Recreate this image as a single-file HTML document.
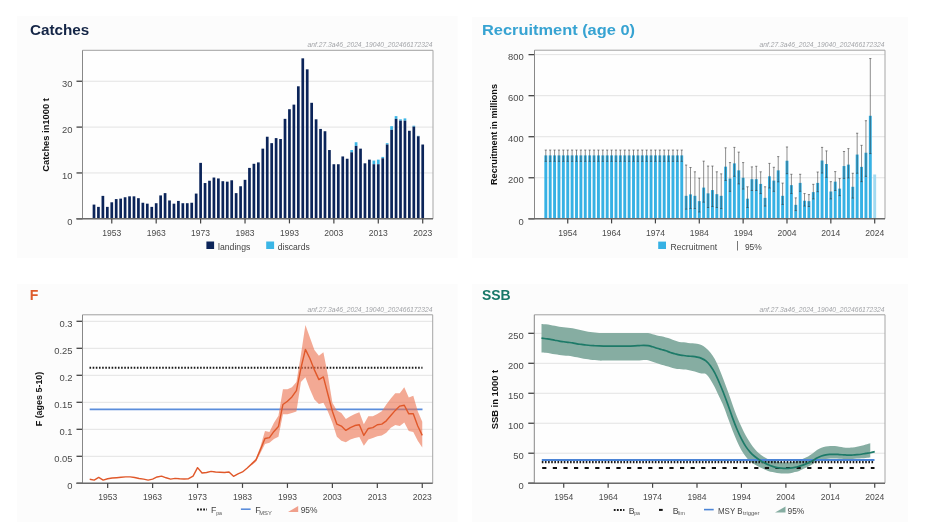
<!DOCTYPE html><html><head><meta charset="utf-8"><style>html,body{margin:0;padding:0;background:#fff;width:941px;height:524px;overflow:hidden}svg{display:block;filter:blur(0.4px)}</style></head><body>
<svg width="941" height="524" viewBox="0 0 941 524" font-family='"Liberation Sans", sans-serif'>
<rect x="0" y="0" width="941" height="524" fill="#ffffff"/>
<rect x="17" y="16" width="440.5" height="242" fill="#fcfcfc"/>
<rect x="472" y="17" width="436" height="241" fill="#fcfcfc"/>
<rect x="17" y="284" width="440.5" height="238" fill="#fcfcfc"/>
<rect x="472" y="284" width="436" height="238" fill="#fcfcfc"/>
<text x="30" y="34.8" font-size="14.6" fill="#142546" text-anchor="start" font-weight="bold" textLength="59.3" lengthAdjust="spacingAndGlyphs">Catches</text>
<text x="432.5" y="47" font-size="7.2" fill="#a2a4a8" text-anchor="end" font-style="italic" textLength="125" lengthAdjust="spacingAndGlyphs">anf.27.3a46_2024_19040_202466172324</text>
<rect x="82.5" y="50.3" width="350.5" height="168.5" fill="#fefefe"/>
<line x1="82.5" y1="218.8" x2="433" y2="218.8" stroke="#e3e3e3" stroke-width="1"/>
<line x1="76.5" y1="218.8" x2="82.5" y2="218.8" stroke="#444" stroke-width="1.3"/>
<text x="72.5" y="224.5" font-size="9.9" fill="#4a4a4a" text-anchor="end" textLength="5.23" lengthAdjust="spacingAndGlyphs">0</text>
<line x1="82.5" y1="172.95" x2="433" y2="172.95" stroke="#e3e3e3" stroke-width="1"/>
<line x1="76.5" y1="172.95" x2="82.5" y2="172.95" stroke="#444" stroke-width="1.3"/>
<text x="72.5" y="178.65" font-size="9.9" fill="#4a4a4a" text-anchor="end" textLength="10.46" lengthAdjust="spacingAndGlyphs">10</text>
<line x1="82.5" y1="127.1" x2="433" y2="127.1" stroke="#e3e3e3" stroke-width="1"/>
<line x1="76.5" y1="127.1" x2="82.5" y2="127.1" stroke="#444" stroke-width="1.3"/>
<text x="72.5" y="132.8" font-size="9.9" fill="#4a4a4a" text-anchor="end" textLength="10.46" lengthAdjust="spacingAndGlyphs">20</text>
<line x1="82.5" y1="81.25" x2="433" y2="81.25" stroke="#e3e3e3" stroke-width="1"/>
<line x1="76.5" y1="81.25" x2="82.5" y2="81.25" stroke="#444" stroke-width="1.3"/>
<text x="72.5" y="86.95" font-size="9.9" fill="#4a4a4a" text-anchor="end" textLength="10.46" lengthAdjust="spacingAndGlyphs">30</text>
<line x1="82.5" y1="50.3" x2="433" y2="50.3" stroke="#a0a0a0" stroke-width="1"/>
<line x1="433" y1="50.3" x2="433" y2="218.8" stroke="#a6a6a6" stroke-width="1"/>
<line x1="82.5" y1="50.3" x2="82.5" y2="218.8" stroke="#888" stroke-width="1"/>
<rect x="92.65" y="204.59" width="2.7" height="14.21" fill="#0b2459"/>
<rect x="97.09" y="206.88" width="2.7" height="11.92" fill="#0b2459"/>
<rect x="101.53" y="195.88" width="2.7" height="22.93" fill="#0b2459"/>
<rect x="105.98" y="206.88" width="2.7" height="11.92" fill="#0b2459"/>
<rect x="110.42" y="202.29" width="2.7" height="16.51" fill="#0b2459"/>
<rect x="114.86" y="199.08" width="2.7" height="19.72" fill="#0b2459"/>
<rect x="119.3" y="198.63" width="2.7" height="20.17" fill="#0b2459"/>
<rect x="123.74" y="197.25" width="2.7" height="21.55" fill="#0b2459"/>
<rect x="128.19" y="196.33" width="2.7" height="22.47" fill="#0b2459"/>
<rect x="132.63" y="196.33" width="2.7" height="22.47" fill="#0b2459"/>
<rect x="137.07" y="198.17" width="2.7" height="20.63" fill="#0b2459"/>
<rect x="141.51" y="202.75" width="2.7" height="16.05" fill="#0b2459"/>
<rect x="145.95" y="203.67" width="2.7" height="15.13" fill="#0b2459"/>
<rect x="150.4" y="206.88" width="2.7" height="11.92" fill="#0b2459"/>
<rect x="154.84" y="203.21" width="2.7" height="15.59" fill="#0b2459"/>
<rect x="159.28" y="195.42" width="2.7" height="23.38" fill="#0b2459"/>
<rect x="163.72" y="193.12" width="2.7" height="25.68" fill="#0b2459"/>
<rect x="168.16" y="200.46" width="2.7" height="18.34" fill="#0b2459"/>
<rect x="172.61" y="203.67" width="2.7" height="15.13" fill="#0b2459"/>
<rect x="177.05" y="200.92" width="2.7" height="17.88" fill="#0b2459"/>
<rect x="181.49" y="203.21" width="2.7" height="15.59" fill="#0b2459"/>
<rect x="185.93" y="203.21" width="2.7" height="15.59" fill="#0b2459"/>
<rect x="190.37" y="202.75" width="2.7" height="16.05" fill="#0b2459"/>
<rect x="194.82" y="193.58" width="2.7" height="25.22" fill="#0b2459"/>
<rect x="199.26" y="162.86" width="2.7" height="55.94" fill="#0b2459"/>
<rect x="203.7" y="183.04" width="2.7" height="35.76" fill="#0b2459"/>
<rect x="208.14" y="180.74" width="2.7" height="38.06" fill="#0b2459"/>
<rect x="212.58" y="177.54" width="2.7" height="41.26" fill="#0b2459"/>
<rect x="217.03" y="178.45" width="2.7" height="40.35" fill="#0b2459"/>
<rect x="221.47" y="181.2" width="2.7" height="37.6" fill="#0b2459"/>
<rect x="225.91" y="181.66" width="2.7" height="37.14" fill="#0b2459"/>
<rect x="230.35" y="180.29" width="2.7" height="38.51" fill="#0b2459"/>
<rect x="234.79" y="193.12" width="2.7" height="25.68" fill="#0b2459"/>
<rect x="239.24" y="186.25" width="2.7" height="32.55" fill="#0b2459"/>
<rect x="243.68" y="179.83" width="2.7" height="38.97" fill="#0b2459"/>
<rect x="248.12" y="167.91" width="2.7" height="50.89" fill="#0b2459"/>
<rect x="252.56" y="163.78" width="2.7" height="55.02" fill="#0b2459"/>
<rect x="257" y="162.4" width="2.7" height="56.4" fill="#0b2459"/>
<rect x="261.45" y="148.65" width="2.7" height="70.15" fill="#0b2459"/>
<rect x="265.89" y="136.73" width="2.7" height="82.07" fill="#0b2459"/>
<rect x="270.33" y="143.15" width="2.7" height="75.65" fill="#0b2459"/>
<rect x="274.77" y="138.1" width="2.7" height="80.7" fill="#0b2459"/>
<rect x="279.21" y="139.02" width="2.7" height="79.78" fill="#0b2459"/>
<rect x="283.66" y="118.85" width="2.7" height="99.95" fill="#0b2459"/>
<rect x="288.1" y="109.22" width="2.7" height="109.58" fill="#0b2459"/>
<rect x="292.54" y="104.63" width="2.7" height="114.17" fill="#0b2459"/>
<rect x="296.98" y="86.29" width="2.7" height="132.51" fill="#0b2459"/>
<rect x="301.42" y="58.33" width="2.7" height="160.47" fill="#0b2459"/>
<rect x="305.87" y="69.33" width="2.7" height="149.47" fill="#0b2459"/>
<rect x="310.31" y="102.8" width="2.7" height="116" fill="#0b2459"/>
<rect x="314.75" y="119.31" width="2.7" height="99.49" fill="#0b2459"/>
<rect x="319.19" y="128.93" width="2.7" height="89.87" fill="#0b2459"/>
<rect x="323.63" y="131.23" width="2.7" height="87.57" fill="#0b2459"/>
<rect x="328.08" y="150.03" width="2.7" height="68.78" fill="#0b2459"/>
<rect x="332.52" y="164.24" width="2.7" height="54.56" fill="#0b2459"/>
<rect x="336.96" y="164.24" width="2.7" height="54.56" fill="#0b2459"/>
<rect x="341.4" y="156.44" width="2.7" height="62.36" fill="#0b2459"/>
<rect x="345.84" y="158.74" width="2.7" height="60.06" fill="#0b2459"/>
<rect x="350.29" y="150.03" width="2.7" height="2.29" fill="#3bb6e6"/>
<rect x="350.29" y="152.32" width="2.7" height="66.48" fill="#0b2459"/>
<rect x="354.73" y="142.23" width="2.7" height="3.67" fill="#3bb6e6"/>
<rect x="354.73" y="145.9" width="2.7" height="72.9" fill="#0b2459"/>
<rect x="359.17" y="148.65" width="2.7" height="70.15" fill="#0b2459"/>
<rect x="363.61" y="163.32" width="2.7" height="55.48" fill="#0b2459"/>
<rect x="368.05" y="159.65" width="2.7" height="59.15" fill="#0b2459"/>
<rect x="372.5" y="160.57" width="2.7" height="3.67" fill="#3bb6e6"/>
<rect x="372.5" y="164.24" width="2.7" height="54.56" fill="#0b2459"/>
<rect x="376.94" y="159.65" width="2.7" height="4.59" fill="#3bb6e6"/>
<rect x="376.94" y="164.24" width="2.7" height="54.56" fill="#0b2459"/>
<rect x="381.38" y="156.9" width="2.7" height="1.38" fill="#3bb6e6"/>
<rect x="381.38" y="158.28" width="2.7" height="60.52" fill="#0b2459"/>
<rect x="385.82" y="143.15" width="2.7" height="1.38" fill="#3bb6e6"/>
<rect x="385.82" y="144.52" width="2.7" height="74.28" fill="#0b2459"/>
<rect x="390.26" y="126.18" width="2.7" height="3.67" fill="#3bb6e6"/>
<rect x="390.26" y="129.85" width="2.7" height="88.95" fill="#0b2459"/>
<rect x="394.71" y="116.1" width="2.7" height="2.75" fill="#3bb6e6"/>
<rect x="394.71" y="118.85" width="2.7" height="99.95" fill="#0b2459"/>
<rect x="399.15" y="119.31" width="2.7" height="1.38" fill="#3bb6e6"/>
<rect x="399.15" y="120.68" width="2.7" height="98.12" fill="#0b2459"/>
<rect x="403.59" y="118.39" width="2.7" height="2.29" fill="#3bb6e6"/>
<rect x="403.59" y="120.68" width="2.7" height="98.12" fill="#0b2459"/>
<rect x="408.03" y="130.77" width="2.7" height="88.03" fill="#0b2459"/>
<rect x="412.47" y="125.72" width="2.7" height="0.92" fill="#3bb6e6"/>
<rect x="412.47" y="126.64" width="2.7" height="92.16" fill="#0b2459"/>
<rect x="416.92" y="135.81" width="2.7" height="0.46" fill="#3bb6e6"/>
<rect x="416.92" y="136.27" width="2.7" height="82.53" fill="#0b2459"/>
<rect x="421.36" y="144.52" width="2.7" height="74.28" fill="#0b2459"/>
<line x1="76.5" y1="218.8" x2="433" y2="218.8" stroke="#6a6a6a" stroke-width="1.4"/>
<line x1="111.77" y1="218.8" x2="111.77" y2="223.4" stroke="#444" stroke-width="1.2"/>
<text x="111.77" y="236.3" font-size="9.2" fill="#4a4a4a" text-anchor="middle" textLength="19.03" lengthAdjust="spacingAndGlyphs">1953</text>
<line x1="156.19" y1="218.8" x2="156.19" y2="223.4" stroke="#444" stroke-width="1.2"/>
<text x="156.19" y="236.3" font-size="9.2" fill="#4a4a4a" text-anchor="middle" textLength="19.03" lengthAdjust="spacingAndGlyphs">1963</text>
<line x1="200.61" y1="218.8" x2="200.61" y2="223.4" stroke="#444" stroke-width="1.2"/>
<text x="200.61" y="236.3" font-size="9.2" fill="#4a4a4a" text-anchor="middle" textLength="19.03" lengthAdjust="spacingAndGlyphs">1973</text>
<line x1="245.03" y1="218.8" x2="245.03" y2="223.4" stroke="#444" stroke-width="1.2"/>
<text x="245.03" y="236.3" font-size="9.2" fill="#4a4a4a" text-anchor="middle" textLength="19.03" lengthAdjust="spacingAndGlyphs">1983</text>
<line x1="289.45" y1="218.8" x2="289.45" y2="223.4" stroke="#444" stroke-width="1.2"/>
<text x="289.45" y="236.3" font-size="9.2" fill="#4a4a4a" text-anchor="middle" textLength="19.03" lengthAdjust="spacingAndGlyphs">1993</text>
<line x1="333.87" y1="218.8" x2="333.87" y2="223.4" stroke="#444" stroke-width="1.2"/>
<text x="333.87" y="236.3" font-size="9.2" fill="#4a4a4a" text-anchor="middle" textLength="19.03" lengthAdjust="spacingAndGlyphs">2003</text>
<line x1="378.29" y1="218.8" x2="378.29" y2="223.4" stroke="#444" stroke-width="1.2"/>
<text x="378.29" y="236.3" font-size="9.2" fill="#4a4a4a" text-anchor="middle" textLength="19.03" lengthAdjust="spacingAndGlyphs">2013</text>
<line x1="422.71" y1="218.8" x2="422.71" y2="223.4" stroke="#444" stroke-width="1.2"/>
<text x="422.71" y="236.3" font-size="9.2" fill="#4a4a4a" text-anchor="middle" textLength="19.03" lengthAdjust="spacingAndGlyphs">2023</text>
<text x="0" y="0" font-size="9.2" fill="#111" font-weight="bold" text-anchor="middle" transform="translate(49.4,135) rotate(-90)" textLength="73.5" lengthAdjust="spacingAndGlyphs">Catches in1000 t</text>
<rect x="206.4" y="241.5" width="7.7" height="7.5" fill="#0b2459"/>
<text x="218" y="250.2" font-size="8.8" fill="#444" text-anchor="start" textLength="32.3" lengthAdjust="spacingAndGlyphs">landings</text>
<rect x="266.2" y="241.5" width="7.9" height="7.5" fill="#3bb6e6"/>
<text x="277.8" y="250.2" font-size="8.8" fill="#444" text-anchor="start" textLength="32" lengthAdjust="spacingAndGlyphs">discards</text>
<text x="482" y="34.8" font-size="14.6" fill="#37a3d2" text-anchor="start" font-weight="bold" textLength="153" lengthAdjust="spacingAndGlyphs">Recruitment (age 0)</text>
<text x="884.5" y="47" font-size="7.2" fill="#a2a4a8" text-anchor="end" font-style="italic" textLength="125" lengthAdjust="spacingAndGlyphs">anf.27.3a46_2024_19040_202466172324</text>
<rect x="534.5" y="50.2" width="350.5" height="168.6" fill="#fefefe"/>
<line x1="534.5" y1="218.8" x2="885" y2="218.8" stroke="#e3e3e3" stroke-width="1"/>
<line x1="528.5" y1="218.8" x2="534.5" y2="218.8" stroke="#444" stroke-width="1.3"/>
<text x="523.8" y="224.5" font-size="9.9" fill="#4a4a4a" text-anchor="end" textLength="5.23" lengthAdjust="spacingAndGlyphs">0</text>
<line x1="534.5" y1="177.76" x2="885" y2="177.76" stroke="#e3e3e3" stroke-width="1"/>
<line x1="528.5" y1="177.76" x2="534.5" y2="177.76" stroke="#444" stroke-width="1.3"/>
<text x="523.8" y="183.46" font-size="9.9" fill="#4a4a4a" text-anchor="end" textLength="15.69" lengthAdjust="spacingAndGlyphs">200</text>
<line x1="534.5" y1="136.72" x2="885" y2="136.72" stroke="#e3e3e3" stroke-width="1"/>
<line x1="528.5" y1="136.72" x2="534.5" y2="136.72" stroke="#444" stroke-width="1.3"/>
<text x="523.8" y="142.42" font-size="9.9" fill="#4a4a4a" text-anchor="end" textLength="15.69" lengthAdjust="spacingAndGlyphs">400</text>
<line x1="534.5" y1="95.68" x2="885" y2="95.68" stroke="#e3e3e3" stroke-width="1"/>
<line x1="528.5" y1="95.68" x2="534.5" y2="95.68" stroke="#444" stroke-width="1.3"/>
<text x="523.8" y="101.38" font-size="9.9" fill="#4a4a4a" text-anchor="end" textLength="15.69" lengthAdjust="spacingAndGlyphs">600</text>
<line x1="534.5" y1="54.64" x2="885" y2="54.64" stroke="#e3e3e3" stroke-width="1"/>
<line x1="528.5" y1="54.64" x2="534.5" y2="54.64" stroke="#444" stroke-width="1.3"/>
<text x="523.8" y="60.34" font-size="9.9" fill="#4a4a4a" text-anchor="end" textLength="15.69" lengthAdjust="spacingAndGlyphs">800</text>
<line x1="534.5" y1="50.2" x2="885" y2="50.2" stroke="#a0a0a0" stroke-width="1"/>
<line x1="885" y1="50.2" x2="885" y2="218.8" stroke="#a6a6a6" stroke-width="1"/>
<line x1="534.5" y1="50.2" x2="534.5" y2="218.8" stroke="#888" stroke-width="1"/>
<rect x="544.35" y="155.39" width="2.9" height="63.41" fill="#36b1e4"/>
<rect x="548.74" y="155.39" width="2.9" height="63.41" fill="#36b1e4"/>
<rect x="553.12" y="155.39" width="2.9" height="63.41" fill="#36b1e4"/>
<rect x="557.51" y="155.39" width="2.9" height="63.41" fill="#36b1e4"/>
<rect x="561.89" y="155.39" width="2.9" height="63.41" fill="#36b1e4"/>
<rect x="566.28" y="155.39" width="2.9" height="63.41" fill="#36b1e4"/>
<rect x="570.66" y="155.39" width="2.9" height="63.41" fill="#36b1e4"/>
<rect x="575.05" y="155.39" width="2.9" height="63.41" fill="#36b1e4"/>
<rect x="579.43" y="155.39" width="2.9" height="63.41" fill="#36b1e4"/>
<rect x="583.82" y="155.39" width="2.9" height="63.41" fill="#36b1e4"/>
<rect x="588.2" y="155.39" width="2.9" height="63.41" fill="#36b1e4"/>
<rect x="592.59" y="155.39" width="2.9" height="63.41" fill="#36b1e4"/>
<rect x="596.97" y="155.39" width="2.9" height="63.41" fill="#36b1e4"/>
<rect x="601.36" y="155.39" width="2.9" height="63.41" fill="#36b1e4"/>
<rect x="605.74" y="155.39" width="2.9" height="63.41" fill="#36b1e4"/>
<rect x="610.13" y="155.39" width="2.9" height="63.41" fill="#36b1e4"/>
<rect x="614.51" y="155.39" width="2.9" height="63.41" fill="#36b1e4"/>
<rect x="618.9" y="155.39" width="2.9" height="63.41" fill="#36b1e4"/>
<rect x="623.29" y="155.39" width="2.9" height="63.41" fill="#36b1e4"/>
<rect x="627.67" y="155.39" width="2.9" height="63.41" fill="#36b1e4"/>
<rect x="632.06" y="155.39" width="2.9" height="63.41" fill="#36b1e4"/>
<rect x="636.44" y="155.39" width="2.9" height="63.41" fill="#36b1e4"/>
<rect x="640.83" y="155.39" width="2.9" height="63.41" fill="#36b1e4"/>
<rect x="645.21" y="155.39" width="2.9" height="63.41" fill="#36b1e4"/>
<rect x="649.6" y="155.39" width="2.9" height="63.41" fill="#36b1e4"/>
<rect x="653.98" y="155.39" width="2.9" height="63.41" fill="#36b1e4"/>
<rect x="658.37" y="155.39" width="2.9" height="63.41" fill="#36b1e4"/>
<rect x="662.75" y="155.39" width="2.9" height="63.41" fill="#36b1e4"/>
<rect x="667.14" y="155.39" width="2.9" height="63.41" fill="#36b1e4"/>
<rect x="671.52" y="155.39" width="2.9" height="63.41" fill="#36b1e4"/>
<rect x="675.91" y="155.39" width="2.9" height="63.41" fill="#36b1e4"/>
<rect x="680.29" y="155.39" width="2.9" height="63.41" fill="#36b1e4"/>
<rect x="684.68" y="195.82" width="2.9" height="22.98" fill="#36b1e4"/>
<rect x="689.06" y="194.38" width="2.9" height="24.42" fill="#36b1e4"/>
<rect x="693.45" y="195.82" width="2.9" height="22.98" fill="#36b1e4"/>
<rect x="697.84" y="201.15" width="2.9" height="17.65" fill="#36b1e4"/>
<rect x="702.22" y="187.61" width="2.9" height="31.19" fill="#36b1e4"/>
<rect x="706.61" y="193.36" width="2.9" height="25.44" fill="#36b1e4"/>
<rect x="710.99" y="190.07" width="2.9" height="28.73" fill="#36b1e4"/>
<rect x="715.38" y="194.18" width="2.9" height="24.62" fill="#36b1e4"/>
<rect x="719.76" y="195.82" width="2.9" height="22.98" fill="#36b1e4"/>
<rect x="724.15" y="166.68" width="2.9" height="52.12" fill="#36b1e4"/>
<rect x="728.53" y="178.58" width="2.9" height="40.22" fill="#36b1e4"/>
<rect x="732.92" y="163.4" width="2.9" height="55.4" fill="#36b1e4"/>
<rect x="737.3" y="170.37" width="2.9" height="48.43" fill="#36b1e4"/>
<rect x="741.69" y="177.76" width="2.9" height="41.04" fill="#36b1e4"/>
<rect x="746.07" y="198.69" width="2.9" height="20.11" fill="#36b1e4"/>
<rect x="750.46" y="179.2" width="2.9" height="39.6" fill="#36b1e4"/>
<rect x="754.84" y="179.2" width="2.9" height="39.6" fill="#36b1e4"/>
<rect x="759.23" y="183.92" width="2.9" height="34.88" fill="#36b1e4"/>
<rect x="763.61" y="197.87" width="2.9" height="20.93" fill="#36b1e4"/>
<rect x="768" y="176.32" width="2.9" height="42.48" fill="#36b1e4"/>
<rect x="772.39" y="180.63" width="2.9" height="38.17" fill="#36b1e4"/>
<rect x="776.77" y="170.37" width="2.9" height="48.43" fill="#36b1e4"/>
<rect x="781.16" y="195.82" width="2.9" height="22.98" fill="#36b1e4"/>
<rect x="785.54" y="160.73" width="2.9" height="58.07" fill="#36b1e4"/>
<rect x="789.93" y="185.15" width="2.9" height="33.65" fill="#36b1e4"/>
<rect x="794.31" y="204.85" width="2.9" height="13.95" fill="#36b1e4"/>
<rect x="798.7" y="182.89" width="2.9" height="35.91" fill="#36b1e4"/>
<rect x="803.08" y="200.74" width="2.9" height="18.06" fill="#36b1e4"/>
<rect x="807.47" y="201.15" width="2.9" height="17.65" fill="#36b1e4"/>
<rect x="811.85" y="192.12" width="2.9" height="26.68" fill="#36b1e4"/>
<rect x="816.24" y="182.89" width="2.9" height="35.91" fill="#36b1e4"/>
<rect x="820.62" y="160.52" width="2.9" height="58.28" fill="#36b1e4"/>
<rect x="825.01" y="164.01" width="2.9" height="54.79" fill="#36b1e4"/>
<rect x="829.39" y="191.51" width="2.9" height="27.29" fill="#36b1e4"/>
<rect x="833.78" y="181.66" width="2.9" height="37.14" fill="#36b1e4"/>
<rect x="838.17" y="188.64" width="2.9" height="30.16" fill="#36b1e4"/>
<rect x="842.55" y="166.06" width="2.9" height="52.74" fill="#36b1e4"/>
<rect x="846.94" y="164.63" width="2.9" height="54.17" fill="#36b1e4"/>
<rect x="851.32" y="186.79" width="2.9" height="32.01" fill="#36b1e4"/>
<rect x="855.71" y="154.57" width="2.9" height="64.23" fill="#36b1e4"/>
<rect x="860.09" y="166.88" width="2.9" height="51.92" fill="#36b1e4"/>
<rect x="864.48" y="152.73" width="2.9" height="66.07" fill="#36b1e4"/>
<rect x="868.86" y="115.79" width="2.9" height="103.01" fill="#36b1e4"/>
<rect x="873.25" y="174.48" width="2.9" height="44.32" fill="#a3daf1"/>
<line x1="545.8" y1="150.06" x2="545.8" y2="161.34" stroke="#333" stroke-width="1" stroke-opacity="0.55"/>
<line x1="544.7" y1="150.06" x2="546.9" y2="150.06" stroke="#333" stroke-width="1" stroke-opacity="0.55"/>
<line x1="544.7" y1="161.34" x2="546.9" y2="161.34" stroke="#333" stroke-width="1" stroke-opacity="0.55"/>
<line x1="550.19" y1="150.06" x2="550.19" y2="161.34" stroke="#333" stroke-width="1" stroke-opacity="0.55"/>
<line x1="549.09" y1="150.06" x2="551.29" y2="150.06" stroke="#333" stroke-width="1" stroke-opacity="0.55"/>
<line x1="549.09" y1="161.34" x2="551.29" y2="161.34" stroke="#333" stroke-width="1" stroke-opacity="0.55"/>
<line x1="554.57" y1="150.06" x2="554.57" y2="161.34" stroke="#333" stroke-width="1" stroke-opacity="0.55"/>
<line x1="553.47" y1="150.06" x2="555.67" y2="150.06" stroke="#333" stroke-width="1" stroke-opacity="0.55"/>
<line x1="553.47" y1="161.34" x2="555.67" y2="161.34" stroke="#333" stroke-width="1" stroke-opacity="0.55"/>
<line x1="558.96" y1="150.06" x2="558.96" y2="161.34" stroke="#333" stroke-width="1" stroke-opacity="0.55"/>
<line x1="557.86" y1="150.06" x2="560.06" y2="150.06" stroke="#333" stroke-width="1" stroke-opacity="0.55"/>
<line x1="557.86" y1="161.34" x2="560.06" y2="161.34" stroke="#333" stroke-width="1" stroke-opacity="0.55"/>
<line x1="563.34" y1="150.06" x2="563.34" y2="161.34" stroke="#333" stroke-width="1" stroke-opacity="0.55"/>
<line x1="562.24" y1="150.06" x2="564.44" y2="150.06" stroke="#333" stroke-width="1" stroke-opacity="0.55"/>
<line x1="562.24" y1="161.34" x2="564.44" y2="161.34" stroke="#333" stroke-width="1" stroke-opacity="0.55"/>
<line x1="567.73" y1="150.06" x2="567.73" y2="161.34" stroke="#333" stroke-width="1" stroke-opacity="0.55"/>
<line x1="566.63" y1="150.06" x2="568.83" y2="150.06" stroke="#333" stroke-width="1" stroke-opacity="0.55"/>
<line x1="566.63" y1="161.34" x2="568.83" y2="161.34" stroke="#333" stroke-width="1" stroke-opacity="0.55"/>
<line x1="572.11" y1="150.06" x2="572.11" y2="161.34" stroke="#333" stroke-width="1" stroke-opacity="0.55"/>
<line x1="571.01" y1="150.06" x2="573.21" y2="150.06" stroke="#333" stroke-width="1" stroke-opacity="0.55"/>
<line x1="571.01" y1="161.34" x2="573.21" y2="161.34" stroke="#333" stroke-width="1" stroke-opacity="0.55"/>
<line x1="576.5" y1="150.06" x2="576.5" y2="161.34" stroke="#333" stroke-width="1" stroke-opacity="0.55"/>
<line x1="575.4" y1="150.06" x2="577.6" y2="150.06" stroke="#333" stroke-width="1" stroke-opacity="0.55"/>
<line x1="575.4" y1="161.34" x2="577.6" y2="161.34" stroke="#333" stroke-width="1" stroke-opacity="0.55"/>
<line x1="580.88" y1="150.06" x2="580.88" y2="161.34" stroke="#333" stroke-width="1" stroke-opacity="0.55"/>
<line x1="579.78" y1="150.06" x2="581.98" y2="150.06" stroke="#333" stroke-width="1" stroke-opacity="0.55"/>
<line x1="579.78" y1="161.34" x2="581.98" y2="161.34" stroke="#333" stroke-width="1" stroke-opacity="0.55"/>
<line x1="585.27" y1="150.06" x2="585.27" y2="161.34" stroke="#333" stroke-width="1" stroke-opacity="0.55"/>
<line x1="584.17" y1="150.06" x2="586.37" y2="150.06" stroke="#333" stroke-width="1" stroke-opacity="0.55"/>
<line x1="584.17" y1="161.34" x2="586.37" y2="161.34" stroke="#333" stroke-width="1" stroke-opacity="0.55"/>
<line x1="589.65" y1="150.06" x2="589.65" y2="161.34" stroke="#333" stroke-width="1" stroke-opacity="0.55"/>
<line x1="588.55" y1="150.06" x2="590.75" y2="150.06" stroke="#333" stroke-width="1" stroke-opacity="0.55"/>
<line x1="588.55" y1="161.34" x2="590.75" y2="161.34" stroke="#333" stroke-width="1" stroke-opacity="0.55"/>
<line x1="594.04" y1="150.06" x2="594.04" y2="161.34" stroke="#333" stroke-width="1" stroke-opacity="0.55"/>
<line x1="592.94" y1="150.06" x2="595.14" y2="150.06" stroke="#333" stroke-width="1" stroke-opacity="0.55"/>
<line x1="592.94" y1="161.34" x2="595.14" y2="161.34" stroke="#333" stroke-width="1" stroke-opacity="0.55"/>
<line x1="598.42" y1="150.06" x2="598.42" y2="161.34" stroke="#333" stroke-width="1" stroke-opacity="0.55"/>
<line x1="597.32" y1="150.06" x2="599.52" y2="150.06" stroke="#333" stroke-width="1" stroke-opacity="0.55"/>
<line x1="597.32" y1="161.34" x2="599.52" y2="161.34" stroke="#333" stroke-width="1" stroke-opacity="0.55"/>
<line x1="602.81" y1="150.06" x2="602.81" y2="161.34" stroke="#333" stroke-width="1" stroke-opacity="0.55"/>
<line x1="601.71" y1="150.06" x2="603.91" y2="150.06" stroke="#333" stroke-width="1" stroke-opacity="0.55"/>
<line x1="601.71" y1="161.34" x2="603.91" y2="161.34" stroke="#333" stroke-width="1" stroke-opacity="0.55"/>
<line x1="607.19" y1="150.06" x2="607.19" y2="161.34" stroke="#333" stroke-width="1" stroke-opacity="0.55"/>
<line x1="606.09" y1="150.06" x2="608.29" y2="150.06" stroke="#333" stroke-width="1" stroke-opacity="0.55"/>
<line x1="606.09" y1="161.34" x2="608.29" y2="161.34" stroke="#333" stroke-width="1" stroke-opacity="0.55"/>
<line x1="611.58" y1="150.06" x2="611.58" y2="161.34" stroke="#333" stroke-width="1" stroke-opacity="0.55"/>
<line x1="610.48" y1="150.06" x2="612.68" y2="150.06" stroke="#333" stroke-width="1" stroke-opacity="0.55"/>
<line x1="610.48" y1="161.34" x2="612.68" y2="161.34" stroke="#333" stroke-width="1" stroke-opacity="0.55"/>
<line x1="615.96" y1="150.06" x2="615.96" y2="161.34" stroke="#333" stroke-width="1" stroke-opacity="0.55"/>
<line x1="614.86" y1="150.06" x2="617.06" y2="150.06" stroke="#333" stroke-width="1" stroke-opacity="0.55"/>
<line x1="614.86" y1="161.34" x2="617.06" y2="161.34" stroke="#333" stroke-width="1" stroke-opacity="0.55"/>
<line x1="620.35" y1="150.06" x2="620.35" y2="161.34" stroke="#333" stroke-width="1" stroke-opacity="0.55"/>
<line x1="619.25" y1="150.06" x2="621.45" y2="150.06" stroke="#333" stroke-width="1" stroke-opacity="0.55"/>
<line x1="619.25" y1="161.34" x2="621.45" y2="161.34" stroke="#333" stroke-width="1" stroke-opacity="0.55"/>
<line x1="624.74" y1="150.06" x2="624.74" y2="161.34" stroke="#333" stroke-width="1" stroke-opacity="0.55"/>
<line x1="623.64" y1="150.06" x2="625.84" y2="150.06" stroke="#333" stroke-width="1" stroke-opacity="0.55"/>
<line x1="623.64" y1="161.34" x2="625.84" y2="161.34" stroke="#333" stroke-width="1" stroke-opacity="0.55"/>
<line x1="629.12" y1="150.06" x2="629.12" y2="161.34" stroke="#333" stroke-width="1" stroke-opacity="0.55"/>
<line x1="628.02" y1="150.06" x2="630.22" y2="150.06" stroke="#333" stroke-width="1" stroke-opacity="0.55"/>
<line x1="628.02" y1="161.34" x2="630.22" y2="161.34" stroke="#333" stroke-width="1" stroke-opacity="0.55"/>
<line x1="633.51" y1="150.06" x2="633.51" y2="161.34" stroke="#333" stroke-width="1" stroke-opacity="0.55"/>
<line x1="632.41" y1="150.06" x2="634.61" y2="150.06" stroke="#333" stroke-width="1" stroke-opacity="0.55"/>
<line x1="632.41" y1="161.34" x2="634.61" y2="161.34" stroke="#333" stroke-width="1" stroke-opacity="0.55"/>
<line x1="637.89" y1="150.06" x2="637.89" y2="161.34" stroke="#333" stroke-width="1" stroke-opacity="0.55"/>
<line x1="636.79" y1="150.06" x2="638.99" y2="150.06" stroke="#333" stroke-width="1" stroke-opacity="0.55"/>
<line x1="636.79" y1="161.34" x2="638.99" y2="161.34" stroke="#333" stroke-width="1" stroke-opacity="0.55"/>
<line x1="642.28" y1="150.06" x2="642.28" y2="161.34" stroke="#333" stroke-width="1" stroke-opacity="0.55"/>
<line x1="641.18" y1="150.06" x2="643.38" y2="150.06" stroke="#333" stroke-width="1" stroke-opacity="0.55"/>
<line x1="641.18" y1="161.34" x2="643.38" y2="161.34" stroke="#333" stroke-width="1" stroke-opacity="0.55"/>
<line x1="646.66" y1="150.06" x2="646.66" y2="161.34" stroke="#333" stroke-width="1" stroke-opacity="0.55"/>
<line x1="645.56" y1="150.06" x2="647.76" y2="150.06" stroke="#333" stroke-width="1" stroke-opacity="0.55"/>
<line x1="645.56" y1="161.34" x2="647.76" y2="161.34" stroke="#333" stroke-width="1" stroke-opacity="0.55"/>
<line x1="651.05" y1="150.06" x2="651.05" y2="161.34" stroke="#333" stroke-width="1" stroke-opacity="0.55"/>
<line x1="649.95" y1="150.06" x2="652.15" y2="150.06" stroke="#333" stroke-width="1" stroke-opacity="0.55"/>
<line x1="649.95" y1="161.34" x2="652.15" y2="161.34" stroke="#333" stroke-width="1" stroke-opacity="0.55"/>
<line x1="655.43" y1="150.06" x2="655.43" y2="161.34" stroke="#333" stroke-width="1" stroke-opacity="0.55"/>
<line x1="654.33" y1="150.06" x2="656.53" y2="150.06" stroke="#333" stroke-width="1" stroke-opacity="0.55"/>
<line x1="654.33" y1="161.34" x2="656.53" y2="161.34" stroke="#333" stroke-width="1" stroke-opacity="0.55"/>
<line x1="659.82" y1="150.06" x2="659.82" y2="161.34" stroke="#333" stroke-width="1" stroke-opacity="0.55"/>
<line x1="658.72" y1="150.06" x2="660.92" y2="150.06" stroke="#333" stroke-width="1" stroke-opacity="0.55"/>
<line x1="658.72" y1="161.34" x2="660.92" y2="161.34" stroke="#333" stroke-width="1" stroke-opacity="0.55"/>
<line x1="664.2" y1="150.06" x2="664.2" y2="161.34" stroke="#333" stroke-width="1" stroke-opacity="0.55"/>
<line x1="663.1" y1="150.06" x2="665.3" y2="150.06" stroke="#333" stroke-width="1" stroke-opacity="0.55"/>
<line x1="663.1" y1="161.34" x2="665.3" y2="161.34" stroke="#333" stroke-width="1" stroke-opacity="0.55"/>
<line x1="668.59" y1="150.06" x2="668.59" y2="161.34" stroke="#333" stroke-width="1" stroke-opacity="0.55"/>
<line x1="667.49" y1="150.06" x2="669.69" y2="150.06" stroke="#333" stroke-width="1" stroke-opacity="0.55"/>
<line x1="667.49" y1="161.34" x2="669.69" y2="161.34" stroke="#333" stroke-width="1" stroke-opacity="0.55"/>
<line x1="672.97" y1="150.06" x2="672.97" y2="161.34" stroke="#333" stroke-width="1" stroke-opacity="0.55"/>
<line x1="671.87" y1="150.06" x2="674.07" y2="150.06" stroke="#333" stroke-width="1" stroke-opacity="0.55"/>
<line x1="671.87" y1="161.34" x2="674.07" y2="161.34" stroke="#333" stroke-width="1" stroke-opacity="0.55"/>
<line x1="677.36" y1="150.06" x2="677.36" y2="161.34" stroke="#333" stroke-width="1" stroke-opacity="0.55"/>
<line x1="676.26" y1="150.06" x2="678.46" y2="150.06" stroke="#333" stroke-width="1" stroke-opacity="0.55"/>
<line x1="676.26" y1="161.34" x2="678.46" y2="161.34" stroke="#333" stroke-width="1" stroke-opacity="0.55"/>
<line x1="681.74" y1="150.06" x2="681.74" y2="161.34" stroke="#333" stroke-width="1" stroke-opacity="0.55"/>
<line x1="680.64" y1="150.06" x2="682.84" y2="150.06" stroke="#333" stroke-width="1" stroke-opacity="0.55"/>
<line x1="680.64" y1="161.34" x2="682.84" y2="161.34" stroke="#333" stroke-width="1" stroke-opacity="0.55"/>
<line x1="686.13" y1="165.04" x2="686.13" y2="209.16" stroke="#333" stroke-width="1" stroke-opacity="0.55"/>
<line x1="685.03" y1="165.04" x2="687.23" y2="165.04" stroke="#333" stroke-width="1" stroke-opacity="0.55"/>
<line x1="685.03" y1="209.16" x2="687.23" y2="209.16" stroke="#333" stroke-width="1" stroke-opacity="0.55"/>
<line x1="690.51" y1="167.5" x2="690.51" y2="208.54" stroke="#333" stroke-width="1" stroke-opacity="0.55"/>
<line x1="689.41" y1="167.5" x2="691.61" y2="167.5" stroke="#333" stroke-width="1" stroke-opacity="0.55"/>
<line x1="689.41" y1="208.54" x2="691.61" y2="208.54" stroke="#333" stroke-width="1" stroke-opacity="0.55"/>
<line x1="694.9" y1="171.81" x2="694.9" y2="208.54" stroke="#333" stroke-width="1" stroke-opacity="0.55"/>
<line x1="693.8" y1="171.81" x2="696" y2="171.81" stroke="#333" stroke-width="1" stroke-opacity="0.55"/>
<line x1="693.8" y1="208.54" x2="696" y2="208.54" stroke="#333" stroke-width="1" stroke-opacity="0.55"/>
<line x1="699.29" y1="178.17" x2="699.29" y2="212.03" stroke="#333" stroke-width="1" stroke-opacity="0.55"/>
<line x1="698.19" y1="178.17" x2="700.39" y2="178.17" stroke="#333" stroke-width="1" stroke-opacity="0.55"/>
<line x1="698.19" y1="212.03" x2="700.39" y2="212.03" stroke="#333" stroke-width="1" stroke-opacity="0.55"/>
<line x1="703.67" y1="161.14" x2="703.67" y2="202.18" stroke="#333" stroke-width="1" stroke-opacity="0.55"/>
<line x1="702.57" y1="161.14" x2="704.77" y2="161.14" stroke="#333" stroke-width="1" stroke-opacity="0.55"/>
<line x1="702.57" y1="202.18" x2="704.77" y2="202.18" stroke="#333" stroke-width="1" stroke-opacity="0.55"/>
<line x1="708.06" y1="166.06" x2="708.06" y2="207.51" stroke="#333" stroke-width="1" stroke-opacity="0.55"/>
<line x1="706.96" y1="166.06" x2="709.16" y2="166.06" stroke="#333" stroke-width="1" stroke-opacity="0.55"/>
<line x1="706.96" y1="207.51" x2="709.16" y2="207.51" stroke="#333" stroke-width="1" stroke-opacity="0.55"/>
<line x1="712.44" y1="166.06" x2="712.44" y2="206.49" stroke="#333" stroke-width="1" stroke-opacity="0.55"/>
<line x1="711.34" y1="166.06" x2="713.54" y2="166.06" stroke="#333" stroke-width="1" stroke-opacity="0.55"/>
<line x1="711.34" y1="206.49" x2="713.54" y2="206.49" stroke="#333" stroke-width="1" stroke-opacity="0.55"/>
<line x1="716.83" y1="171.81" x2="716.83" y2="207.51" stroke="#333" stroke-width="1" stroke-opacity="0.55"/>
<line x1="715.73" y1="171.81" x2="717.93" y2="171.81" stroke="#333" stroke-width="1" stroke-opacity="0.55"/>
<line x1="715.73" y1="207.51" x2="717.93" y2="207.51" stroke="#333" stroke-width="1" stroke-opacity="0.55"/>
<line x1="721.21" y1="173.86" x2="721.21" y2="208.54" stroke="#333" stroke-width="1" stroke-opacity="0.55"/>
<line x1="720.11" y1="173.86" x2="722.31" y2="173.86" stroke="#333" stroke-width="1" stroke-opacity="0.55"/>
<line x1="720.11" y1="208.54" x2="722.31" y2="208.54" stroke="#333" stroke-width="1" stroke-opacity="0.55"/>
<line x1="725.6" y1="147.8" x2="725.6" y2="180.43" stroke="#333" stroke-width="1" stroke-opacity="0.55"/>
<line x1="724.5" y1="147.8" x2="726.7" y2="147.8" stroke="#333" stroke-width="1" stroke-opacity="0.55"/>
<line x1="724.5" y1="180.43" x2="726.7" y2="180.43" stroke="#333" stroke-width="1" stroke-opacity="0.55"/>
<line x1="729.98" y1="162.58" x2="729.98" y2="191.3" stroke="#333" stroke-width="1" stroke-opacity="0.55"/>
<line x1="728.88" y1="162.58" x2="731.08" y2="162.58" stroke="#333" stroke-width="1" stroke-opacity="0.55"/>
<line x1="728.88" y1="191.3" x2="731.08" y2="191.3" stroke="#333" stroke-width="1" stroke-opacity="0.55"/>
<line x1="734.37" y1="147.39" x2="734.37" y2="176.32" stroke="#333" stroke-width="1" stroke-opacity="0.55"/>
<line x1="733.27" y1="147.39" x2="735.47" y2="147.39" stroke="#333" stroke-width="1" stroke-opacity="0.55"/>
<line x1="733.27" y1="176.32" x2="735.47" y2="176.32" stroke="#333" stroke-width="1" stroke-opacity="0.55"/>
<line x1="738.75" y1="152.11" x2="738.75" y2="183.92" stroke="#333" stroke-width="1" stroke-opacity="0.55"/>
<line x1="737.65" y1="152.11" x2="739.85" y2="152.11" stroke="#333" stroke-width="1" stroke-opacity="0.55"/>
<line x1="737.65" y1="183.92" x2="739.85" y2="183.92" stroke="#333" stroke-width="1" stroke-opacity="0.55"/>
<line x1="743.14" y1="162.58" x2="743.14" y2="189.05" stroke="#333" stroke-width="1" stroke-opacity="0.55"/>
<line x1="742.04" y1="162.58" x2="744.24" y2="162.58" stroke="#333" stroke-width="1" stroke-opacity="0.55"/>
<line x1="742.04" y1="189.05" x2="744.24" y2="189.05" stroke="#333" stroke-width="1" stroke-opacity="0.55"/>
<line x1="747.52" y1="186.79" x2="747.52" y2="207.51" stroke="#333" stroke-width="1" stroke-opacity="0.55"/>
<line x1="746.42" y1="186.79" x2="748.62" y2="186.79" stroke="#333" stroke-width="1" stroke-opacity="0.55"/>
<line x1="746.42" y1="207.51" x2="748.62" y2="207.51" stroke="#333" stroke-width="1" stroke-opacity="0.55"/>
<line x1="751.91" y1="166.88" x2="751.91" y2="190.48" stroke="#333" stroke-width="1" stroke-opacity="0.55"/>
<line x1="750.81" y1="166.88" x2="753.01" y2="166.88" stroke="#333" stroke-width="1" stroke-opacity="0.55"/>
<line x1="750.81" y1="190.48" x2="753.01" y2="190.48" stroke="#333" stroke-width="1" stroke-opacity="0.55"/>
<line x1="756.29" y1="166.27" x2="756.29" y2="190.48" stroke="#333" stroke-width="1" stroke-opacity="0.55"/>
<line x1="755.19" y1="166.27" x2="757.39" y2="166.27" stroke="#333" stroke-width="1" stroke-opacity="0.55"/>
<line x1="755.19" y1="190.48" x2="757.39" y2="190.48" stroke="#333" stroke-width="1" stroke-opacity="0.55"/>
<line x1="760.68" y1="171.81" x2="760.68" y2="193.56" stroke="#333" stroke-width="1" stroke-opacity="0.55"/>
<line x1="759.58" y1="171.81" x2="761.78" y2="171.81" stroke="#333" stroke-width="1" stroke-opacity="0.55"/>
<line x1="759.58" y1="193.56" x2="761.78" y2="193.56" stroke="#333" stroke-width="1" stroke-opacity="0.55"/>
<line x1="765.06" y1="186.79" x2="765.06" y2="206.08" stroke="#333" stroke-width="1" stroke-opacity="0.55"/>
<line x1="763.96" y1="186.79" x2="766.16" y2="186.79" stroke="#333" stroke-width="1" stroke-opacity="0.55"/>
<line x1="763.96" y1="206.08" x2="766.16" y2="206.08" stroke="#333" stroke-width="1" stroke-opacity="0.55"/>
<line x1="769.45" y1="163.4" x2="769.45" y2="188.02" stroke="#333" stroke-width="1" stroke-opacity="0.55"/>
<line x1="768.35" y1="163.4" x2="770.55" y2="163.4" stroke="#333" stroke-width="1" stroke-opacity="0.55"/>
<line x1="768.35" y1="188.02" x2="770.55" y2="188.02" stroke="#333" stroke-width="1" stroke-opacity="0.55"/>
<line x1="773.84" y1="167.29" x2="773.84" y2="191.3" stroke="#333" stroke-width="1" stroke-opacity="0.55"/>
<line x1="772.74" y1="167.29" x2="774.94" y2="167.29" stroke="#333" stroke-width="1" stroke-opacity="0.55"/>
<line x1="772.74" y1="191.3" x2="774.94" y2="191.3" stroke="#333" stroke-width="1" stroke-opacity="0.55"/>
<line x1="778.22" y1="156.62" x2="778.22" y2="181.86" stroke="#333" stroke-width="1" stroke-opacity="0.55"/>
<line x1="777.12" y1="156.62" x2="779.32" y2="156.62" stroke="#333" stroke-width="1" stroke-opacity="0.55"/>
<line x1="777.12" y1="181.86" x2="779.32" y2="181.86" stroke="#333" stroke-width="1" stroke-opacity="0.55"/>
<line x1="782.61" y1="183.1" x2="782.61" y2="204.44" stroke="#333" stroke-width="1" stroke-opacity="0.55"/>
<line x1="781.51" y1="183.1" x2="783.71" y2="183.1" stroke="#333" stroke-width="1" stroke-opacity="0.55"/>
<line x1="781.51" y1="204.44" x2="783.71" y2="204.44" stroke="#333" stroke-width="1" stroke-opacity="0.55"/>
<line x1="786.99" y1="146.98" x2="786.99" y2="173.66" stroke="#333" stroke-width="1" stroke-opacity="0.55"/>
<line x1="785.89" y1="146.98" x2="788.09" y2="146.98" stroke="#333" stroke-width="1" stroke-opacity="0.55"/>
<line x1="785.89" y1="173.66" x2="788.09" y2="173.66" stroke="#333" stroke-width="1" stroke-opacity="0.55"/>
<line x1="791.38" y1="174.27" x2="791.38" y2="193.56" stroke="#333" stroke-width="1" stroke-opacity="0.55"/>
<line x1="790.28" y1="174.27" x2="792.48" y2="174.27" stroke="#333" stroke-width="1" stroke-opacity="0.55"/>
<line x1="790.28" y1="193.56" x2="792.48" y2="193.56" stroke="#333" stroke-width="1" stroke-opacity="0.55"/>
<line x1="795.76" y1="197.87" x2="795.76" y2="210.59" stroke="#333" stroke-width="1" stroke-opacity="0.55"/>
<line x1="794.66" y1="197.87" x2="796.86" y2="197.87" stroke="#333" stroke-width="1" stroke-opacity="0.55"/>
<line x1="794.66" y1="210.59" x2="796.86" y2="210.59" stroke="#333" stroke-width="1" stroke-opacity="0.55"/>
<line x1="800.15" y1="174.27" x2="800.15" y2="191.3" stroke="#333" stroke-width="1" stroke-opacity="0.55"/>
<line x1="799.05" y1="174.27" x2="801.25" y2="174.27" stroke="#333" stroke-width="1" stroke-opacity="0.55"/>
<line x1="799.05" y1="191.3" x2="801.25" y2="191.3" stroke="#333" stroke-width="1" stroke-opacity="0.55"/>
<line x1="804.53" y1="193.56" x2="804.53" y2="206.08" stroke="#333" stroke-width="1" stroke-opacity="0.55"/>
<line x1="803.43" y1="193.56" x2="805.63" y2="193.56" stroke="#333" stroke-width="1" stroke-opacity="0.55"/>
<line x1="803.43" y1="206.08" x2="805.63" y2="206.08" stroke="#333" stroke-width="1" stroke-opacity="0.55"/>
<line x1="808.92" y1="194.59" x2="808.92" y2="206.49" stroke="#333" stroke-width="1" stroke-opacity="0.55"/>
<line x1="807.82" y1="194.59" x2="810.02" y2="194.59" stroke="#333" stroke-width="1" stroke-opacity="0.55"/>
<line x1="807.82" y1="206.49" x2="810.02" y2="206.49" stroke="#333" stroke-width="1" stroke-opacity="0.55"/>
<line x1="813.3" y1="184.33" x2="813.3" y2="198.9" stroke="#333" stroke-width="1" stroke-opacity="0.55"/>
<line x1="812.2" y1="184.33" x2="814.4" y2="184.33" stroke="#333" stroke-width="1" stroke-opacity="0.55"/>
<line x1="812.2" y1="198.9" x2="814.4" y2="198.9" stroke="#333" stroke-width="1" stroke-opacity="0.55"/>
<line x1="817.69" y1="172.01" x2="817.69" y2="191.71" stroke="#333" stroke-width="1" stroke-opacity="0.55"/>
<line x1="816.59" y1="172.01" x2="818.79" y2="172.01" stroke="#333" stroke-width="1" stroke-opacity="0.55"/>
<line x1="816.59" y1="191.71" x2="818.79" y2="191.71" stroke="#333" stroke-width="1" stroke-opacity="0.55"/>
<line x1="822.07" y1="147.39" x2="822.07" y2="173.04" stroke="#333" stroke-width="1" stroke-opacity="0.55"/>
<line x1="820.97" y1="147.39" x2="823.17" y2="147.39" stroke="#333" stroke-width="1" stroke-opacity="0.55"/>
<line x1="820.97" y1="173.04" x2="823.17" y2="173.04" stroke="#333" stroke-width="1" stroke-opacity="0.55"/>
<line x1="826.46" y1="150.88" x2="826.46" y2="177.35" stroke="#333" stroke-width="1" stroke-opacity="0.55"/>
<line x1="825.36" y1="150.88" x2="827.56" y2="150.88" stroke="#333" stroke-width="1" stroke-opacity="0.55"/>
<line x1="825.36" y1="177.35" x2="827.56" y2="177.35" stroke="#333" stroke-width="1" stroke-opacity="0.55"/>
<line x1="830.84" y1="181.66" x2="830.84" y2="198.9" stroke="#333" stroke-width="1" stroke-opacity="0.55"/>
<line x1="829.74" y1="181.66" x2="831.94" y2="181.66" stroke="#333" stroke-width="1" stroke-opacity="0.55"/>
<line x1="829.74" y1="198.9" x2="831.94" y2="198.9" stroke="#333" stroke-width="1" stroke-opacity="0.55"/>
<line x1="835.23" y1="171.6" x2="835.23" y2="190.48" stroke="#333" stroke-width="1" stroke-opacity="0.55"/>
<line x1="834.13" y1="171.6" x2="836.33" y2="171.6" stroke="#333" stroke-width="1" stroke-opacity="0.55"/>
<line x1="834.13" y1="190.48" x2="836.33" y2="190.48" stroke="#333" stroke-width="1" stroke-opacity="0.55"/>
<line x1="839.62" y1="178.58" x2="839.62" y2="195.61" stroke="#333" stroke-width="1" stroke-opacity="0.55"/>
<line x1="838.52" y1="178.58" x2="840.72" y2="178.58" stroke="#333" stroke-width="1" stroke-opacity="0.55"/>
<line x1="838.52" y1="195.61" x2="840.72" y2="195.61" stroke="#333" stroke-width="1" stroke-opacity="0.55"/>
<line x1="844" y1="151.49" x2="844" y2="178.38" stroke="#333" stroke-width="1" stroke-opacity="0.55"/>
<line x1="842.9" y1="151.49" x2="845.1" y2="151.49" stroke="#333" stroke-width="1" stroke-opacity="0.55"/>
<line x1="842.9" y1="178.38" x2="845.1" y2="178.38" stroke="#333" stroke-width="1" stroke-opacity="0.55"/>
<line x1="848.39" y1="148.62" x2="848.39" y2="177.97" stroke="#333" stroke-width="1" stroke-opacity="0.55"/>
<line x1="847.29" y1="148.62" x2="849.49" y2="148.62" stroke="#333" stroke-width="1" stroke-opacity="0.55"/>
<line x1="847.29" y1="177.97" x2="849.49" y2="177.97" stroke="#333" stroke-width="1" stroke-opacity="0.55"/>
<line x1="852.77" y1="173.25" x2="852.77" y2="198.07" stroke="#333" stroke-width="1" stroke-opacity="0.55"/>
<line x1="851.67" y1="173.25" x2="853.87" y2="173.25" stroke="#333" stroke-width="1" stroke-opacity="0.55"/>
<line x1="851.67" y1="198.07" x2="853.87" y2="198.07" stroke="#333" stroke-width="1" stroke-opacity="0.55"/>
<line x1="857.16" y1="133.23" x2="857.16" y2="173.25" stroke="#333" stroke-width="1" stroke-opacity="0.55"/>
<line x1="856.06" y1="133.23" x2="858.26" y2="133.23" stroke="#333" stroke-width="1" stroke-opacity="0.55"/>
<line x1="856.06" y1="173.25" x2="858.26" y2="173.25" stroke="#333" stroke-width="1" stroke-opacity="0.55"/>
<line x1="861.54" y1="145.34" x2="861.54" y2="181.66" stroke="#333" stroke-width="1" stroke-opacity="0.55"/>
<line x1="860.44" y1="145.34" x2="862.64" y2="145.34" stroke="#333" stroke-width="1" stroke-opacity="0.55"/>
<line x1="860.44" y1="181.66" x2="862.64" y2="181.66" stroke="#333" stroke-width="1" stroke-opacity="0.55"/>
<line x1="865.93" y1="120.71" x2="865.93" y2="176.32" stroke="#333" stroke-width="1" stroke-opacity="0.55"/>
<line x1="864.83" y1="120.71" x2="867.03" y2="120.71" stroke="#333" stroke-width="1" stroke-opacity="0.55"/>
<line x1="864.83" y1="176.32" x2="867.03" y2="176.32" stroke="#333" stroke-width="1" stroke-opacity="0.55"/>
<line x1="870.31" y1="58.54" x2="870.31" y2="153.55" stroke="#333" stroke-width="1" stroke-opacity="0.55"/>
<line x1="869.21" y1="58.54" x2="871.41" y2="58.54" stroke="#333" stroke-width="1" stroke-opacity="0.55"/>
<line x1="869.21" y1="153.55" x2="871.41" y2="153.55" stroke="#333" stroke-width="1" stroke-opacity="0.55"/>
<line x1="528.5" y1="218.8" x2="885" y2="218.8" stroke="#6a6a6a" stroke-width="1.4"/>
<line x1="567.73" y1="218.8" x2="567.73" y2="223.4" stroke="#444" stroke-width="1.2"/>
<text x="567.73" y="236.3" font-size="9.2" fill="#4a4a4a" text-anchor="middle" textLength="19.03" lengthAdjust="spacingAndGlyphs">1954</text>
<line x1="611.58" y1="218.8" x2="611.58" y2="223.4" stroke="#444" stroke-width="1.2"/>
<text x="611.58" y="236.3" font-size="9.2" fill="#4a4a4a" text-anchor="middle" textLength="19.03" lengthAdjust="spacingAndGlyphs">1964</text>
<line x1="655.43" y1="218.8" x2="655.43" y2="223.4" stroke="#444" stroke-width="1.2"/>
<text x="655.43" y="236.3" font-size="9.2" fill="#4a4a4a" text-anchor="middle" textLength="19.03" lengthAdjust="spacingAndGlyphs">1974</text>
<line x1="699.29" y1="218.8" x2="699.29" y2="223.4" stroke="#444" stroke-width="1.2"/>
<text x="699.29" y="236.3" font-size="9.2" fill="#4a4a4a" text-anchor="middle" textLength="19.03" lengthAdjust="spacingAndGlyphs">1984</text>
<line x1="743.14" y1="218.8" x2="743.14" y2="223.4" stroke="#444" stroke-width="1.2"/>
<text x="743.14" y="236.3" font-size="9.2" fill="#4a4a4a" text-anchor="middle" textLength="19.03" lengthAdjust="spacingAndGlyphs">1994</text>
<line x1="786.99" y1="218.8" x2="786.99" y2="223.4" stroke="#444" stroke-width="1.2"/>
<text x="786.99" y="236.3" font-size="9.2" fill="#4a4a4a" text-anchor="middle" textLength="19.03" lengthAdjust="spacingAndGlyphs">2004</text>
<line x1="830.84" y1="218.8" x2="830.84" y2="223.4" stroke="#444" stroke-width="1.2"/>
<text x="830.84" y="236.3" font-size="9.2" fill="#4a4a4a" text-anchor="middle" textLength="19.03" lengthAdjust="spacingAndGlyphs">2014</text>
<line x1="874.7" y1="218.8" x2="874.7" y2="223.4" stroke="#444" stroke-width="1.2"/>
<text x="874.7" y="236.3" font-size="9.2" fill="#4a4a4a" text-anchor="middle" textLength="19.03" lengthAdjust="spacingAndGlyphs">2024</text>
<text x="0" y="0" font-size="9.2" fill="#111" font-weight="bold" text-anchor="middle" transform="translate(496.5,134.5) rotate(-90)" textLength="101" lengthAdjust="spacingAndGlyphs">Recruitment in millions</text>
<rect x="658.2" y="241.6" width="7.8" height="7.4" fill="#36b1e4"/>
<text x="670.5" y="250.2" font-size="8.8" fill="#444" text-anchor="start" textLength="46.6" lengthAdjust="spacingAndGlyphs">Recruitment</text>
<line x1="737.5" y1="241" x2="737.5" y2="250.5" stroke="#777" stroke-width="1"/>
<text x="744.9" y="250.2" font-size="8.8" fill="#444" text-anchor="start" textLength="16.8" lengthAdjust="spacingAndGlyphs">95%</text>
<text x="29.8" y="299.8" font-size="14.6" fill="#dd5c2c" text-anchor="start" font-weight="bold" textLength="8.6" lengthAdjust="spacingAndGlyphs">F</text>
<text x="432.5" y="312" font-size="7.2" fill="#a2a4a8" text-anchor="end" font-style="italic" textLength="125" lengthAdjust="spacingAndGlyphs">anf.27.3a46_2024_19040_202466172324</text>
<rect x="82.5" y="314.8" width="350.2" height="168.5" fill="#fefefe"/>
<line x1="82.5" y1="483.3" x2="432.7" y2="483.3" stroke="#e3e3e3" stroke-width="1"/>
<line x1="76.5" y1="483.3" x2="82.5" y2="483.3" stroke="#444" stroke-width="1.3"/>
<text x="72.5" y="489" font-size="9.9" fill="#4a4a4a" text-anchor="end" textLength="5.23" lengthAdjust="spacingAndGlyphs">0</text>
<line x1="82.5" y1="456.3" x2="432.7" y2="456.3" stroke="#e3e3e3" stroke-width="1"/>
<line x1="76.5" y1="456.3" x2="82.5" y2="456.3" stroke="#444" stroke-width="1.3"/>
<text x="72.5" y="462" font-size="9.9" fill="#4a4a4a" text-anchor="end" textLength="18.3" lengthAdjust="spacingAndGlyphs">0.05</text>
<line x1="82.5" y1="429.3" x2="432.7" y2="429.3" stroke="#e3e3e3" stroke-width="1"/>
<line x1="76.5" y1="429.3" x2="82.5" y2="429.3" stroke="#444" stroke-width="1.3"/>
<text x="72.5" y="435" font-size="9.9" fill="#4a4a4a" text-anchor="end" textLength="13.07" lengthAdjust="spacingAndGlyphs">0.1</text>
<line x1="82.5" y1="402.3" x2="432.7" y2="402.3" stroke="#e3e3e3" stroke-width="1"/>
<line x1="76.5" y1="402.3" x2="82.5" y2="402.3" stroke="#444" stroke-width="1.3"/>
<text x="72.5" y="408" font-size="9.9" fill="#4a4a4a" text-anchor="end" textLength="18.3" lengthAdjust="spacingAndGlyphs">0.15</text>
<line x1="82.5" y1="375.3" x2="432.7" y2="375.3" stroke="#e3e3e3" stroke-width="1"/>
<line x1="76.5" y1="375.3" x2="82.5" y2="375.3" stroke="#444" stroke-width="1.3"/>
<text x="72.5" y="381" font-size="9.9" fill="#4a4a4a" text-anchor="end" textLength="13.07" lengthAdjust="spacingAndGlyphs">0.2</text>
<line x1="82.5" y1="348.3" x2="432.7" y2="348.3" stroke="#e3e3e3" stroke-width="1"/>
<line x1="76.5" y1="348.3" x2="82.5" y2="348.3" stroke="#444" stroke-width="1.3"/>
<text x="72.5" y="354" font-size="9.9" fill="#4a4a4a" text-anchor="end" textLength="18.3" lengthAdjust="spacingAndGlyphs">0.25</text>
<line x1="82.5" y1="321.3" x2="432.7" y2="321.3" stroke="#e3e3e3" stroke-width="1"/>
<line x1="76.5" y1="321.3" x2="82.5" y2="321.3" stroke="#444" stroke-width="1.3"/>
<text x="72.5" y="327" font-size="9.9" fill="#4a4a4a" text-anchor="end" textLength="13.07" lengthAdjust="spacingAndGlyphs">0.3</text>
<line x1="82.5" y1="314.8" x2="432.7" y2="314.8" stroke="#a0a0a0" stroke-width="1"/>
<line x1="432.7" y1="314.8" x2="432.7" y2="483.3" stroke="#a6a6a6" stroke-width="1"/>
<line x1="82.5" y1="314.8" x2="82.5" y2="483.3" stroke="#888" stroke-width="1"/>
<line x1="89.5" y1="367.74" x2="422.5" y2="367.74" stroke="#1a1a1a" stroke-width="2" stroke-dasharray="1.6 1.56"/>
<line x1="89.7" y1="409.32" x2="422.5" y2="409.32" stroke="#5b8ddb" stroke-width="1.7"/>
<polygon points="251.48,463.05 255.98,458.19 260.47,446.58 264.97,430.92 269.46,432 273.95,422.82 278.45,415.8 282.94,389.34 287.44,389.34 291.93,387.18 296.42,382.05 300.92,354.78 305.41,325.08 309.91,337.5 314.4,349.92 318.89,355.86 323.39,352.35 327.88,375.3 332.38,402.84 336.87,410.4 341.36,413.1 345.86,419.04 350.35,416.34 354.85,413.91 359.34,412.18 363.83,424.17 368.33,416.34 372.82,416.34 377.32,413.91 381.81,411.21 386.3,404.46 390.8,398.52 395.29,393.23 399.79,393.23 404.28,387.18 408.77,397.44 413.27,395.82 417.76,411.21 422.26,421.74 422.26,447.39 417.76,440.64 413.27,432 408.77,431.08 404.28,422.44 399.79,426.06 395.29,424.98 390.8,427.68 386.3,432.81 381.81,435.4 377.32,436.32 372.82,437.94 368.33,439.56 363.83,445.72 359.34,437.08 354.85,437.94 350.35,439.56 345.86,442.26 341.36,440.64 336.87,436.86 332.38,422.82 327.88,411.48 323.39,402.84 318.89,403.92 314.4,399.6 309.91,389.34 305.41,377.19 300.92,382.05 296.42,411.48 291.93,413.1 287.44,414.18 282.94,414.18 278.45,436.86 273.95,439.02 269.46,442.8 264.97,443.88 260.47,453.06 255.98,461.7 251.48,465.21" fill="#ec7452" fill-opacity="0.62"/>
<polyline points="89.7,479.3 94.19,480.17 98.69,477.36 103.18,480.06 107.68,478.71 112.17,478.06 116.66,477.68 121.16,477.2 125.65,476.87 130.15,476.87 134.64,477.52 139.13,478.44 143.63,479.09 148.12,480.06 152.62,479.09 157.11,476.98 161.6,476.12 166.1,477.79 170.59,479.09 175.09,478.33 179.58,478.71 184.07,478.98 188.57,478.71 193.06,476.12 197.56,467.64 202.05,473.04 206.54,472.5 211.04,471.42 215.53,471.96 220.03,472.23 224.52,472.5 229.01,471.96 233.51,476.28 238,473.85 242.5,471.96 246.99,468.18 251.48,464.13 255.98,460.08 260.47,449.55 264.97,438.48 269.46,437.67 273.95,431.46 278.45,426.6 282.94,404.46 287.44,401.22 291.93,396.9 296.42,390.69 300.92,368.28 305.41,349.38 309.91,358.56 314.4,369.9 318.89,379.62 323.39,376.92 327.88,394.2 332.38,411.21 336.87,424.17 341.36,426.06 345.86,430.38 350.35,427.68 354.85,425.52 359.34,424.71 363.83,435.4 368.33,428.49 372.82,427.68 377.32,424.71 381.81,424.17 386.3,420.82 390.8,415.53 395.29,410.4 399.79,406.08 404.28,405.27 408.77,413.8 413.27,413.8 417.76,426.06 422.26,435.4" fill="none" stroke="#e0582a" stroke-width="1.4" stroke-linejoin="round"/>
<line x1="76.5" y1="483.3" x2="432.7" y2="483.3" stroke="#6a6a6a" stroke-width="1.4"/>
<line x1="107.68" y1="483.3" x2="107.68" y2="487.9" stroke="#444" stroke-width="1.2"/>
<text x="107.68" y="500.2" font-size="9.2" fill="#4a4a4a" text-anchor="middle" textLength="19.03" lengthAdjust="spacingAndGlyphs">1953</text>
<line x1="152.62" y1="483.3" x2="152.62" y2="487.9" stroke="#444" stroke-width="1.2"/>
<text x="152.62" y="500.2" font-size="9.2" fill="#4a4a4a" text-anchor="middle" textLength="19.03" lengthAdjust="spacingAndGlyphs">1963</text>
<line x1="197.56" y1="483.3" x2="197.56" y2="487.9" stroke="#444" stroke-width="1.2"/>
<text x="197.56" y="500.2" font-size="9.2" fill="#4a4a4a" text-anchor="middle" textLength="19.03" lengthAdjust="spacingAndGlyphs">1973</text>
<line x1="242.5" y1="483.3" x2="242.5" y2="487.9" stroke="#444" stroke-width="1.2"/>
<text x="242.5" y="500.2" font-size="9.2" fill="#4a4a4a" text-anchor="middle" textLength="19.03" lengthAdjust="spacingAndGlyphs">1983</text>
<line x1="287.44" y1="483.3" x2="287.44" y2="487.9" stroke="#444" stroke-width="1.2"/>
<text x="287.44" y="500.2" font-size="9.2" fill="#4a4a4a" text-anchor="middle" textLength="19.03" lengthAdjust="spacingAndGlyphs">1993</text>
<line x1="332.38" y1="483.3" x2="332.38" y2="487.9" stroke="#444" stroke-width="1.2"/>
<text x="332.38" y="500.2" font-size="9.2" fill="#4a4a4a" text-anchor="middle" textLength="19.03" lengthAdjust="spacingAndGlyphs">2003</text>
<line x1="377.32" y1="483.3" x2="377.32" y2="487.9" stroke="#444" stroke-width="1.2"/>
<text x="377.32" y="500.2" font-size="9.2" fill="#4a4a4a" text-anchor="middle" textLength="19.03" lengthAdjust="spacingAndGlyphs">2013</text>
<line x1="422.26" y1="483.3" x2="422.26" y2="487.9" stroke="#444" stroke-width="1.2"/>
<text x="422.26" y="500.2" font-size="9.2" fill="#4a4a4a" text-anchor="middle" textLength="19.03" lengthAdjust="spacingAndGlyphs">2023</text>
<text x="0" y="0" font-size="9.2" fill="#111" font-weight="bold" text-anchor="middle" transform="translate(42,399) rotate(-90)" textLength="54.6" lengthAdjust="spacingAndGlyphs">F (ages 5-10)</text>
<line x1="197" y1="509.5" x2="207" y2="509.5" stroke="#1a1a1a" stroke-width="2" stroke-dasharray="1.8 1.3"/>
<text x="211" y="513.3" font-size="8.8" fill="#444" text-anchor="start">F</text>
<text x="216.2" y="515.2" font-size="5.2" fill="#555" text-anchor="start">pa</text>
<line x1="240.9" y1="509.2" x2="250.6" y2="509.2" stroke="#5b8ddb" stroke-width="1.6"/>
<text x="255.3" y="513.3" font-size="8.8" fill="#444" text-anchor="start">F</text>
<text x="259.2" y="515.2" font-size="5.2" fill="#555" text-anchor="start" textLength="12.6" lengthAdjust="spacingAndGlyphs">MSY</text>
<polygon points="288,512 298.2,506 298.2,512" fill="#f0a08c"/>
<text x="300.7" y="513.3" font-size="8.8" fill="#444" text-anchor="start" textLength="16.8" lengthAdjust="spacingAndGlyphs">95%</text>
<text x="482" y="299.8" font-size="14.6" fill="#187868" text-anchor="start" font-weight="bold" textLength="28.7" lengthAdjust="spacingAndGlyphs">SSB</text>
<text x="884.5" y="312" font-size="7.2" fill="#a2a4a8" text-anchor="end" font-style="italic" textLength="125" lengthAdjust="spacingAndGlyphs">anf.27.3a46_2024_19040_202466172324</text>
<rect x="534.3" y="314.8" width="350.7" height="168.4" fill="#fefefe"/>
<line x1="534.3" y1="483.2" x2="885" y2="483.2" stroke="#e3e3e3" stroke-width="1"/>
<line x1="528.3" y1="483.2" x2="534.3" y2="483.2" stroke="#444" stroke-width="1.3"/>
<text x="523.8" y="488.9" font-size="9.9" fill="#4a4a4a" text-anchor="end" textLength="5.23" lengthAdjust="spacingAndGlyphs">0</text>
<line x1="534.3" y1="453.22" x2="885" y2="453.22" stroke="#e3e3e3" stroke-width="1"/>
<line x1="528.3" y1="453.22" x2="534.3" y2="453.22" stroke="#444" stroke-width="1.3"/>
<text x="523.8" y="458.92" font-size="9.9" fill="#4a4a4a" text-anchor="end" textLength="10.46" lengthAdjust="spacingAndGlyphs">50</text>
<line x1="534.3" y1="423.25" x2="885" y2="423.25" stroke="#e3e3e3" stroke-width="1"/>
<line x1="528.3" y1="423.25" x2="534.3" y2="423.25" stroke="#444" stroke-width="1.3"/>
<text x="523.8" y="428.95" font-size="9.9" fill="#4a4a4a" text-anchor="end" textLength="15.69" lengthAdjust="spacingAndGlyphs">100</text>
<line x1="534.3" y1="393.27" x2="885" y2="393.27" stroke="#e3e3e3" stroke-width="1"/>
<line x1="528.3" y1="393.27" x2="534.3" y2="393.27" stroke="#444" stroke-width="1.3"/>
<text x="523.8" y="398.97" font-size="9.9" fill="#4a4a4a" text-anchor="end" textLength="15.69" lengthAdjust="spacingAndGlyphs">150</text>
<line x1="534.3" y1="363.3" x2="885" y2="363.3" stroke="#e3e3e3" stroke-width="1"/>
<line x1="528.3" y1="363.3" x2="534.3" y2="363.3" stroke="#444" stroke-width="1.3"/>
<text x="523.8" y="369" font-size="9.9" fill="#4a4a4a" text-anchor="end" textLength="15.69" lengthAdjust="spacingAndGlyphs">200</text>
<line x1="534.3" y1="333.32" x2="885" y2="333.32" stroke="#e3e3e3" stroke-width="1"/>
<line x1="528.3" y1="333.32" x2="534.3" y2="333.32" stroke="#444" stroke-width="1.3"/>
<text x="523.8" y="339.02" font-size="9.9" fill="#4a4a4a" text-anchor="end" textLength="15.69" lengthAdjust="spacingAndGlyphs">250</text>
<line x1="534.3" y1="314.8" x2="885" y2="314.8" stroke="#a0a0a0" stroke-width="1"/>
<line x1="885" y1="314.8" x2="885" y2="483.2" stroke="#a6a6a6" stroke-width="1"/>
<line x1="534.3" y1="314.8" x2="534.3" y2="483.2" stroke="#888" stroke-width="1"/>
<path d="M541.5,323.91 C542.24,323.98 544.46,324.16 545.94,324.33 C547.42,324.5 548.9,324.68 550.39,324.93 C551.87,325.18 553.35,325.53 554.83,325.83 C556.31,326.13 557.79,326.48 559.27,326.73 C560.75,326.98 562.23,327.18 563.72,327.33 C565.2,327.48 566.68,327.48 568.16,327.63 C569.64,327.78 571.12,327.98 572.6,328.23 C574.08,328.48 575.56,328.78 577.04,329.13 C578.52,329.48 580.01,329.98 581.49,330.33 C582.97,330.68 584.45,330.96 585.93,331.23 C587.41,331.5 588.89,331.75 590.37,331.95 C591.85,332.15 593.34,332.27 594.82,332.43 C596.3,332.59 597.78,332.83 599.26,332.91 C600.74,332.99 602.22,332.91 603.7,332.91 C605.18,332.91 606.66,332.91 608.14,332.91 C609.63,332.91 611.11,332.91 612.59,332.91 C614.07,332.91 615.55,332.91 617.03,332.91 C618.51,332.91 619.99,332.91 621.47,332.91 C622.95,332.91 624.44,332.91 625.92,332.91 C627.4,332.91 628.88,332.91 630.36,332.91 C631.84,332.91 633.32,332.91 634.8,332.91 C636.28,332.91 637.76,332.91 639.25,332.91 C640.73,332.91 642.21,332.89 643.69,332.91 C645.17,332.93 646.65,332.81 648.13,333.03 C649.61,333.25 651.09,333.82 652.58,334.22 C654.06,334.62 655.54,335.07 657.02,335.42 C658.5,335.77 659.98,335.97 661.46,336.32 C662.94,336.67 664.42,337.12 665.9,337.52 C667.38,337.92 668.87,338.22 670.35,338.72 C671.83,339.22 673.31,339.97 674.79,340.52 C676.27,341.07 677.75,341.72 679.23,342.02 C680.71,342.32 682.19,342.17 683.68,342.32 C685.16,342.47 686.64,342.77 688.12,342.92 C689.6,343.07 691.08,343.07 692.56,343.22 C694.04,343.37 695.52,343.52 697,343.82 C698.49,344.12 699.97,344.34 701.45,345.02 C702.93,345.69 704.41,346.64 705.89,347.89 C707.37,349.14 708.85,350.64 710.33,352.51 C711.81,354.38 713.3,356.41 714.78,359.1 C716.26,361.8 717.74,365.2 719.22,368.7 C720.7,372.19 722.18,376.19 723.66,380.09 C725.14,383.98 726.62,387.98 728.11,392.08 C729.59,396.17 731.07,400.57 732.55,404.67 C734.03,408.76 735.51,412.96 736.99,416.66 C738.47,420.35 739.95,423.65 741.43,426.85 C742.92,430.04 744.4,433.14 745.88,435.84 C747.36,438.54 748.84,440.84 750.32,443.03 C751.8,445.23 753.28,447.28 754.76,449.03 C756.25,450.78 757.73,452.23 759.21,453.52 C760.69,454.82 762.17,455.87 763.65,456.82 C765.13,457.77 766.61,458.57 768.09,459.22 C769.57,459.87 771.05,460.32 772.54,460.72 C774.02,461.12 775.5,461.37 776.98,461.62 C778.46,461.87 779.94,462.07 781.42,462.22 C782.9,462.37 784.38,462.52 785.87,462.52 C787.35,462.52 788.83,462.37 790.31,462.22 C791.79,462.07 793.27,461.92 794.75,461.62 C796.23,461.32 797.71,460.92 799.19,460.42 C800.67,459.92 802.16,459.27 803.64,458.62 C805.12,457.97 806.6,457.37 808.08,456.52 C809.56,455.67 811.04,454.62 812.52,453.52 C814,452.43 815.48,450.88 816.97,449.93 C818.45,448.98 819.93,448.41 821.41,447.83 C822.89,447.25 824.37,446.77 825.85,446.45 C827.33,446.13 828.81,445.98 830.29,445.91 C831.78,445.84 833.26,445.89 834.74,446.03 C836.22,446.17 837.7,446.52 839.18,446.75 C840.66,446.98 842.14,447.26 843.62,447.41 C845.11,447.56 846.59,447.63 848.07,447.65 C849.55,447.67 851.03,447.7 852.51,447.53 C853.99,447.36 855.47,446.93 856.95,446.63 C858.43,446.33 859.91,446.08 861.4,445.73 C862.88,445.38 864.36,444.95 865.84,444.53 C867.32,444.11 869.54,443.43 870.28,443.21 L870.28,457.6 C869.54,457.67 867.32,457.9 865.84,458.02 C864.36,458.14 862.88,458.22 861.4,458.32 C859.91,458.42 858.43,458.52 856.95,458.62 C855.47,458.72 853.99,458.85 852.51,458.92 C851.03,458.99 849.55,459.04 848.07,459.04 C846.59,459.04 845.11,458.97 843.62,458.92 C842.14,458.87 840.66,458.79 839.18,458.74 C837.7,458.69 836.22,458.64 834.74,458.62 C833.26,458.6 831.78,458.55 830.29,458.62 C828.81,458.69 827.33,458.84 825.85,459.04 C824.37,459.24 822.89,459.39 821.41,459.82 C819.93,460.25 818.45,460.87 816.97,461.62 C815.48,462.37 814,463.47 812.52,464.32 C811.04,465.17 809.56,465.96 808.08,466.71 C806.6,467.46 805.12,468.11 803.64,468.81 C802.16,469.51 800.67,470.36 799.19,470.91 C797.71,471.46 796.23,471.71 794.75,472.11 C793.27,472.51 791.79,473.06 790.31,473.31 C788.83,473.56 787.35,473.59 785.87,473.61 C784.38,473.63 782.9,473.53 781.42,473.43 C779.94,473.33 778.46,473.23 776.98,473.01 C775.5,472.79 774.02,472.46 772.54,472.11 C771.05,471.76 769.57,471.41 768.09,470.91 C766.61,470.41 765.13,469.76 763.65,469.11 C762.17,468.46 760.69,467.76 759.21,467.01 C757.73,466.26 756.25,465.51 754.76,464.62 C753.28,463.72 751.8,462.92 750.32,461.62 C748.84,460.32 747.36,458.72 745.88,456.82 C744.4,454.92 742.92,452.83 741.43,450.23 C739.95,447.63 738.47,444.53 736.99,441.24 C735.51,437.94 734.03,434.24 732.55,430.44 C731.07,426.65 729.59,422.45 728.11,418.45 C726.62,414.46 725.14,410.06 723.66,406.46 C722.18,402.87 720.7,400.07 719.22,396.87 C717.74,393.67 716.26,390.18 714.78,387.28 C713.3,384.38 711.81,381.68 710.33,379.49 C708.85,377.29 707.37,375.09 705.89,374.09 C704.41,373.09 702.93,373.79 701.45,373.49 C699.97,373.19 698.49,372.69 697,372.29 C695.52,371.89 694.04,371.49 692.56,371.09 C691.08,370.69 689.6,370.14 688.12,369.89 C686.64,369.64 685.16,369.72 683.68,369.59 C682.19,369.46 680.71,369.31 679.23,369.12 C677.75,368.92 676.27,368.72 674.79,368.4 C673.31,368.08 671.83,367.6 670.35,367.2 C668.87,366.8 667.38,366.4 665.9,366 C664.42,365.6 662.94,365.25 661.46,364.8 C659.98,364.35 658.5,363.8 657.02,363.3 C655.54,362.8 654.06,362.3 652.58,361.8 C651.09,361.3 649.61,360.58 648.13,360.3 C646.65,360.02 645.17,360.1 643.69,360.12 C642.21,360.14 640.73,360.34 639.25,360.42 C637.76,360.5 636.28,360.57 634.8,360.6 C633.32,360.63 631.84,360.6 630.36,360.6 C628.88,360.6 627.4,360.6 625.92,360.6 C624.44,360.6 622.95,360.6 621.47,360.6 C619.99,360.6 618.51,360.6 617.03,360.6 C615.55,360.6 614.07,360.6 612.59,360.6 C611.11,360.6 609.63,360.6 608.14,360.6 C606.66,360.6 605.18,360.6 603.7,360.6 C602.22,360.6 600.74,360.7 599.26,360.6 C597.78,360.5 596.3,360.15 594.82,360 C593.34,359.85 591.85,359.85 590.37,359.7 C588.89,359.55 587.41,359.35 585.93,359.1 C584.45,358.85 582.97,358.5 581.49,358.2 C580.01,357.9 578.52,357.6 577.04,357.3 C575.56,357.01 574.08,356.66 572.6,356.41 C571.12,356.16 569.64,355.96 568.16,355.81 C566.68,355.66 565.2,355.66 563.72,355.51 C562.23,355.36 560.75,355.11 559.27,354.91 C557.79,354.71 556.31,354.56 554.83,354.31 C553.35,354.06 551.87,353.66 550.39,353.41 C548.9,353.16 547.42,352.96 545.94,352.81 C544.46,352.66 542.24,352.56 541.5,352.51 Z" fill="#86ada2"/>
<line x1="541.8" y1="460" x2="874.5" y2="460" stroke="#4b84d6" stroke-width="2"/>
<line x1="541.8" y1="462.1" x2="874.5" y2="462.1" stroke="#1a1a1a" stroke-width="2.2" stroke-dasharray="1.6 1.54"/>
<line x1="542.2" y1="468.1" x2="874.5" y2="468.1" stroke="#111" stroke-width="2" stroke-dasharray="4.2 6.4"/>
<path d="M541.5,338.12 C542.24,338.22 544.46,338.52 545.94,338.72 C547.42,338.92 548.9,339.07 550.39,339.32 C551.87,339.57 553.35,339.92 554.83,340.22 C556.31,340.52 557.79,340.87 559.27,341.12 C560.75,341.37 562.23,341.52 563.72,341.72 C565.2,341.92 566.68,342.12 568.16,342.32 C569.64,342.52 571.12,342.67 572.6,342.92 C574.08,343.17 575.56,343.57 577.04,343.82 C578.52,344.07 580.01,344.22 581.49,344.42 C582.97,344.62 584.45,344.84 585.93,345.02 C587.41,345.2 588.89,345.37 590.37,345.49 C591.85,345.61 593.34,345.66 594.82,345.73 C596.3,345.8 597.78,345.86 599.26,345.91 C600.74,345.96 602.22,346 603.7,346.03 C605.18,346.06 606.66,346.08 608.14,346.09 C609.63,346.1 611.11,346.09 612.59,346.09 C614.07,346.09 615.55,346.09 617.03,346.09 C618.51,346.09 619.99,346.09 621.47,346.09 C622.95,346.09 624.44,346.09 625.92,346.09 C627.4,346.09 628.88,346.12 630.36,346.09 C631.84,346.06 633.32,345.99 634.8,345.91 C636.28,345.83 637.76,345.71 639.25,345.61 C640.73,345.51 642.21,345.31 643.69,345.31 C645.17,345.31 646.65,345.36 648.13,345.61 C649.61,345.86 651.09,346.36 652.58,346.81 C654.06,347.26 655.54,347.86 657.02,348.31 C658.5,348.76 659.98,349.11 661.46,349.51 C662.94,349.91 664.42,350.21 665.9,350.71 C667.38,351.21 668.87,352.01 670.35,352.51 C671.83,353.01 673.31,353.31 674.79,353.71 C676.27,354.11 677.75,354.61 679.23,354.91 C680.71,355.21 682.19,355.31 683.68,355.51 C685.16,355.71 686.64,355.96 688.12,356.11 C689.6,356.26 691.08,356.24 692.56,356.41 C694.04,356.58 695.52,356.8 697,357.13 C698.49,357.45 699.97,357.75 701.45,358.38 C702.93,359.01 704.41,359.68 705.89,360.9 C707.37,362.12 708.85,363.7 710.33,365.7 C711.81,367.7 713.3,370.09 714.78,372.89 C716.26,375.69 717.74,379.09 719.22,382.48 C720.7,385.88 722.18,389.48 723.66,393.27 C725.14,397.07 726.62,401.17 728.11,405.26 C729.59,409.36 731.07,413.86 732.55,417.85 C734.03,421.85 735.51,425.75 736.99,429.25 C738.47,432.74 739.95,435.94 741.43,438.84 C742.92,441.73 744.4,444.38 745.88,446.63 C747.36,448.88 748.84,450.68 750.32,452.33 C751.8,453.97 753.28,455.27 754.76,456.52 C756.25,457.77 757.73,458.82 759.21,459.82 C760.69,460.82 762.17,461.72 763.65,462.52 C765.13,463.32 766.61,463.97 768.09,464.62 C769.57,465.26 771.05,465.91 772.54,466.41 C774.02,466.91 775.5,467.31 776.98,467.61 C778.46,467.91 779.94,468.07 781.42,468.21 C782.9,468.35 784.38,468.45 785.87,468.45 C787.35,468.45 788.83,468.38 790.31,468.21 C791.79,468.04 793.27,467.75 794.75,467.43 C796.23,467.11 797.71,466.71 799.19,466.29 C800.67,465.87 802.16,465.46 803.64,464.92 C805.12,464.37 806.6,463.68 808.08,463 C809.56,462.32 811.04,461.67 812.52,460.84 C814,460.01 815.48,458.82 816.97,458.02 C818.45,457.22 819.93,456.57 821.41,456.04 C822.89,455.51 824.37,455.11 825.85,454.84 C827.33,454.57 828.81,454.51 830.29,454.42 C831.78,454.33 833.26,454.28 834.74,454.3 C836.22,454.32 837.7,454.45 839.18,454.54 C840.66,454.63 842.14,454.74 843.62,454.84 C845.11,454.94 846.59,455.11 848.07,455.14 C849.55,455.17 851.03,455.09 852.51,455.02 C853.99,454.95 855.47,454.85 856.95,454.72 C858.43,454.59 859.91,454.47 861.4,454.24 C862.88,454.01 864.36,453.59 865.84,453.34 C867.32,453.1 868.8,453.04 870.28,452.75 C871.76,452.46 873.98,451.8 874.72,451.61" fill="none" stroke="#1d7a68" stroke-width="1.7"/>
<line x1="528.3" y1="483.2" x2="885" y2="483.2" stroke="#6a6a6a" stroke-width="1.4"/>
<line x1="563.72" y1="483.2" x2="563.72" y2="487.8" stroke="#444" stroke-width="1.2"/>
<text x="563.72" y="500.2" font-size="9.2" fill="#4a4a4a" text-anchor="middle" textLength="19.03" lengthAdjust="spacingAndGlyphs">1954</text>
<line x1="608.14" y1="483.2" x2="608.14" y2="487.8" stroke="#444" stroke-width="1.2"/>
<text x="608.14" y="500.2" font-size="9.2" fill="#4a4a4a" text-anchor="middle" textLength="19.03" lengthAdjust="spacingAndGlyphs">1964</text>
<line x1="652.58" y1="483.2" x2="652.58" y2="487.8" stroke="#444" stroke-width="1.2"/>
<text x="652.58" y="500.2" font-size="9.2" fill="#4a4a4a" text-anchor="middle" textLength="19.03" lengthAdjust="spacingAndGlyphs">1974</text>
<line x1="697" y1="483.2" x2="697" y2="487.8" stroke="#444" stroke-width="1.2"/>
<text x="697" y="500.2" font-size="9.2" fill="#4a4a4a" text-anchor="middle" textLength="19.03" lengthAdjust="spacingAndGlyphs">1984</text>
<line x1="741.43" y1="483.2" x2="741.43" y2="487.8" stroke="#444" stroke-width="1.2"/>
<text x="741.43" y="500.2" font-size="9.2" fill="#4a4a4a" text-anchor="middle" textLength="19.03" lengthAdjust="spacingAndGlyphs">1994</text>
<line x1="785.87" y1="483.2" x2="785.87" y2="487.8" stroke="#444" stroke-width="1.2"/>
<text x="785.87" y="500.2" font-size="9.2" fill="#4a4a4a" text-anchor="middle" textLength="19.03" lengthAdjust="spacingAndGlyphs">2004</text>
<line x1="830.29" y1="483.2" x2="830.29" y2="487.8" stroke="#444" stroke-width="1.2"/>
<text x="830.29" y="500.2" font-size="9.2" fill="#4a4a4a" text-anchor="middle" textLength="19.03" lengthAdjust="spacingAndGlyphs">2014</text>
<line x1="874.72" y1="483.2" x2="874.72" y2="487.8" stroke="#444" stroke-width="1.2"/>
<text x="874.72" y="500.2" font-size="9.2" fill="#4a4a4a" text-anchor="middle" textLength="19.03" lengthAdjust="spacingAndGlyphs">2024</text>
<text x="0" y="0" font-size="9.2" fill="#111" font-weight="bold" text-anchor="middle" transform="translate(498.4,399.6) rotate(-90)" textLength="59.5" lengthAdjust="spacingAndGlyphs">SSB in 1000 t</text>
<line x1="613.8" y1="509.9" x2="624.4" y2="509.9" stroke="#1a1a1a" stroke-width="2" stroke-dasharray="1.8 1.3"/>
<text x="628.7" y="513.5" font-size="8.8" fill="#444" text-anchor="start">B</text>
<text x="634.2" y="515.4" font-size="5.2" fill="#555" text-anchor="start">pa</text>
<line x1="659" y1="509.9" x2="662.7" y2="509.9" stroke="#111" stroke-width="2"/>
<text x="672.7" y="513.5" font-size="8.8" fill="#444" text-anchor="start">B</text>
<text x="678.2" y="515.4" font-size="5.2" fill="#555" text-anchor="start">lim</text>
<line x1="704" y1="509.6" x2="713.7" y2="509.6" stroke="#4b84d6" stroke-width="1.6"/>
<text x="718" y="513.5" font-size="8.8" fill="#444" text-anchor="start" textLength="24.5" lengthAdjust="spacingAndGlyphs">MSY B</text>
<text x="743" y="515.4" font-size="5.2" fill="#555" text-anchor="start" textLength="16.4" lengthAdjust="spacingAndGlyphs">trigger</text>
<polygon points="775,512.5 785.5,506.5 785.5,512.5" fill="#86ada2"/>
<text x="787.5" y="513.5" font-size="8.8" fill="#444" text-anchor="start" textLength="16.8" lengthAdjust="spacingAndGlyphs">95%</text>
</svg></body></html>
